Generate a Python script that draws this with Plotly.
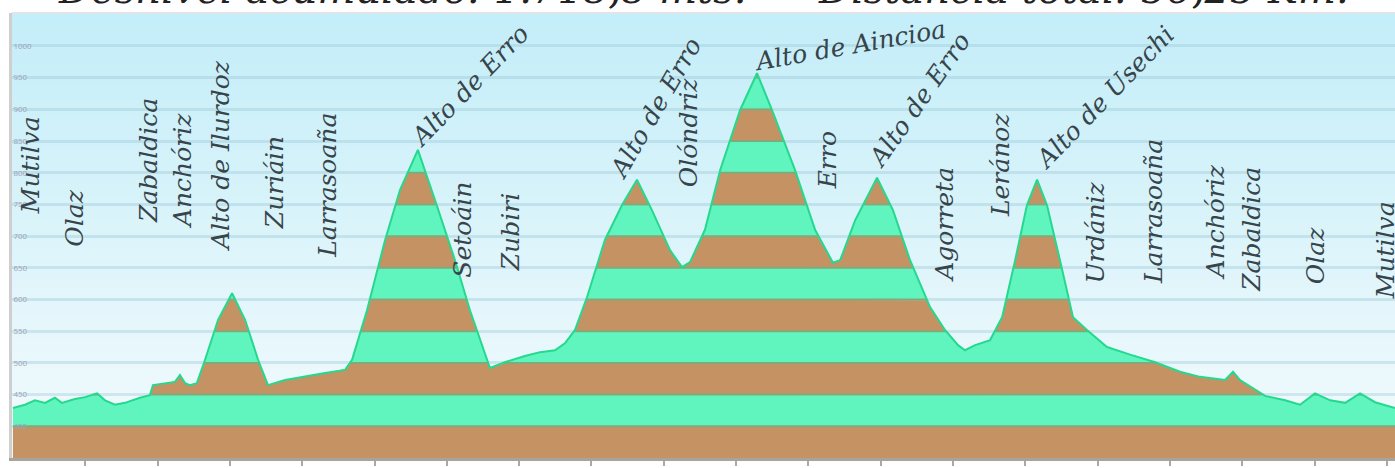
import numpy as np
import plotly.graph_objects as go

# ---- data: elevation profile (distance km, altitude m) ----
dist_km = [0.0, 0.50, 0.91, 1.33, 1.74, 2.03, 2.57, 2.99, 3.49, 3.82, 4.23, 4.65, 5.27, 5.68,
           5.81, 6.31, 6.72, 6.93, 7.14, 7.34, 7.63, 7.97, 8.51, 9.09, 9.63, 10.17, 10.58,
           11.29, 12.12, 12.95, 13.78, 14.07, 14.69, 15.44, 16.06, 16.80, 17.51, 18.34, 18.96,
           19.79, 20.41, 21.24, 21.87, 22.49, 22.90, 23.32, 23.82, 24.56, 25.27, 25.89, 26.51,
           27.26, 27.76, 28.09, 28.71, 29.34, 30.17, 30.87, 31.49, 32.45, 33.28, 34.02, 34.32,
           34.94, 35.85, 36.51, 37.22, 38.05, 38.67, 39.21, 39.50, 39.92, 40.54, 41.04, 41.58,
           42.07, 42.49, 42.90, 43.44, 43.98, 44.56, 45.39, 46.35, 47.39, 48.42, 49.25, 50.29,
           50.62, 50.91, 51.54, 51.95, 52.78, 53.40, 54.02, 54.65, 55.27, 55.89, 56.51, 57.34]
alt_m = [429, 434, 441, 437, 445, 437, 443, 446, 452, 441, 434, 437, 445, 449,
         465, 468, 470, 481, 468, 465, 468, 505, 568, 610, 568, 505, 465,
         473, 479, 484, 489, 505, 583, 694, 773, 836, 757, 662, 583,
         492, 501, 511, 517, 520, 531, 552, 604, 694, 749, 789, 741,
         678, 651, 659, 710, 804, 899, 957, 899, 804, 710, 658, 662,
         725, 792, 741, 662, 588, 552, 528, 520, 528, 536, 572, 662,
         749, 789, 749, 662, 572, 552, 525, 513, 501, 486, 478, 473,
         486, 473, 457, 448, 441, 434, 452, 441, 437, 452, 438, 429]

# place names along the route (vertical labels)
towns = ["Mutilva", "Olaz", "Zabaldica", "Anchóriz", "Alto de Ilurdoz", "Zuriáin", "Larrasoaña",
         "Setoáin", "Zubiri", "Olóndriz", "Erro", "Agorreta", "Leránoz", "Urdániz",
         "Larrasoaña", "Anchóriz", "Zabaldica", "Olaz", "Mutilva"]
town_km = [0.71, 2.57, 5.60, 7.01, 8.63, 10.83, 13.07, 18.67, 20.62, 28.01, 33.78, 38.67,
           40.95, 44.90, 47.30, 49.88, 51.41, 54.02, 56.93]
town_alt = [812, 729, 820, 804, 828, 785, 781, 710, 706, 864, 820, 718, 812, 706, 738,
            722, 710, 670, 678]

# mountain passes (slanted labels)
passes = ["Alto de Erro", "Alto de Erro", "Alto de Aincioa", "Alto de Erro", "Alto de Usechi"]
pass_km = [18.96, 26.64, 34.73, 37.63, 45.31]
pass_alt = [938, 902, 1001, 915, 918]
pass_angle = [-46, -60, -10, -55, -46]

title_left = "Desnivel acumulado: 1.718,8 mts."
title_right = "Distancia total: 56,25 Km."

y_ticks = list(range(400, 1001, 50))
x_ticks = list(range(0, 58, 3))

# ---- styling ----
GREEN = "#60f5bf"
BROWN = "#c59363"
EDGE = "#24d98e"
BAND_LINE = "#82a97a"
Y_MIN, Y_MAX = 350, 1052
X_MIN, X_MAX = -0.04, 57.34
BAND = 50
W, H = 1395, 468
ML, MT, MB, MR = 12, 13, 10, 0

fig = go.Figure()

# rendering grid for the coloured altitude bands
xs = np.linspace(dist_km[0], dist_km[-1], 6000)
ys = np.interp(xs, dist_km, alt_m)


def runs(mask):
    """contiguous index runs where mask is True"""
    out, start = [], None
    for i, m in enumerate(mask):
        if m and start is None:
            start = i
        elif not m and start is not None:
            out.append((start, i))
            start = None
    if start is not None:
        out.append((start, len(mask)))
    return out


levels = list(range(Y_MIN, int(max(alt_m)) + BAND, BAND))
for i, lo in enumerate(levels[:-1]):
    hi = lo + BAND
    px, py = [], []
    for a, b in runs(ys > lo):
        sx = xs[a:b]
        sy = np.clip(ys[a:b], lo, hi)
        px += list(sx) + list(sx[::-1]) + [None]
        py += list(sy) + [lo] * len(sx) + [None]
    fig.add_trace(go.Scatter(
        x=px, y=py, fill="toself", fillcolor=BROWN if i % 2 == 0 else GREEN,
        line=dict(width=0), mode="lines", hoverinfo="skip", showlegend=False))

# band separation lines
for lv in levels[1:-1]:
    lx, ly = [], []
    for a, b in runs(ys > lv):
        lx += [xs[a], xs[b - 1], None]
        ly += [lv, lv, None]
    fig.add_trace(go.Scatter(x=lx, y=ly, mode="lines", line=dict(color=BAND_LINE, width=2),
                             hoverinfo="skip", showlegend=False))

# profile outline
fig.add_trace(go.Scatter(x=dist_km, y=alt_m, mode="lines", line=dict(color=EDGE, width=2),
                         showlegend=False))

# background gradient
shapes = []
n = 60
top = np.array([196, 238, 249])
bot = np.array([244, 251, 253])
for k in range(n):
    t = k / (n - 1)
    c = top + (bot - top) * t
    shapes.append(dict(type="rect", xref="paper", yref="paper", x0=0, x1=1,
                       y0=1 - (k + 1) / n, y1=1 - k / n + 0.002, layer="below",
                       line=dict(width=0), fillcolor=f"rgb({int(c[0])},{int(c[1])},{int(c[2])})"))
shapes.append(dict(type="line", xref="paper", yref="paper", x0=0, x1=1, y0=1, y1=1,
                   line=dict(color="#e2e4e6", width=2)))

annotations = []
lab_font = dict(family="DejaVu Serif", size=25, color="#37444a")
for name, xk, ya in zip(towns, town_km, town_alt):
    annotations.append(dict(x=xk, y=ya, xref="x", yref="y", text=f"<i>{name}</i>",
                            textangle=-90, showarrow=False, font=lab_font))
for name, xk, ya, ang in zip(passes, pass_km, pass_alt, pass_angle):
    annotations.append(dict(x=xk, y=ya, xref="x", yref="y", text=f"<i>{name}</i>",
                            textangle=ang, showarrow=False, font=lab_font))

plot_w = W - ML - MR
title_font = dict(family="DejaVu Serif", size=40, color="#222222")
for txt, px_ in ((title_left, 402), (title_right, 1083)):
    annotations.append(dict(x=(px_ - ML) / plot_w, xref="paper", y=1, yref="paper",
                            xanchor="center", yanchor="middle", yshift=24,
                            text=f"<i>{txt}</i>", showarrow=False, font=title_font))

fig.update_layout(
    width=W, height=H,
    margin=dict(l=ML, r=MR, t=MT, b=MB, autoexpand=False),
    paper_bgcolor="white", plot_bgcolor="rgba(0,0,0,0)",
    shapes=shapes, annotations=annotations,
    xaxis=dict(range=[X_MIN, X_MAX], tickvals=x_ticks, ticks="outside", ticklen=5,
               tickcolor="#b0a8a0", tickwidth=2, showgrid=False, zeroline=False,
               showline=True, linecolor="#aaa39c", linewidth=3, automargin=False,
               tickfont=dict(size=8, color="#b8b8c0")),
    yaxis=dict(range=[Y_MIN, Y_MAX], tickvals=y_ticks, ticklabelposition="inside",
               tickfont=dict(size=8, color="#9fa2b8"), showgrid=True, automargin=False,
               gridcolor="rgba(150,195,210,0.35)", gridwidth=3, zeroline=False,
               showline=True, linecolor="#cfcfcf", linewidth=3),
)

fig.write_html("out.html", config={"displayModeBar": False},
               post_script="document.body.style.margin='0px';document.body.style.overflow='hidden';")
